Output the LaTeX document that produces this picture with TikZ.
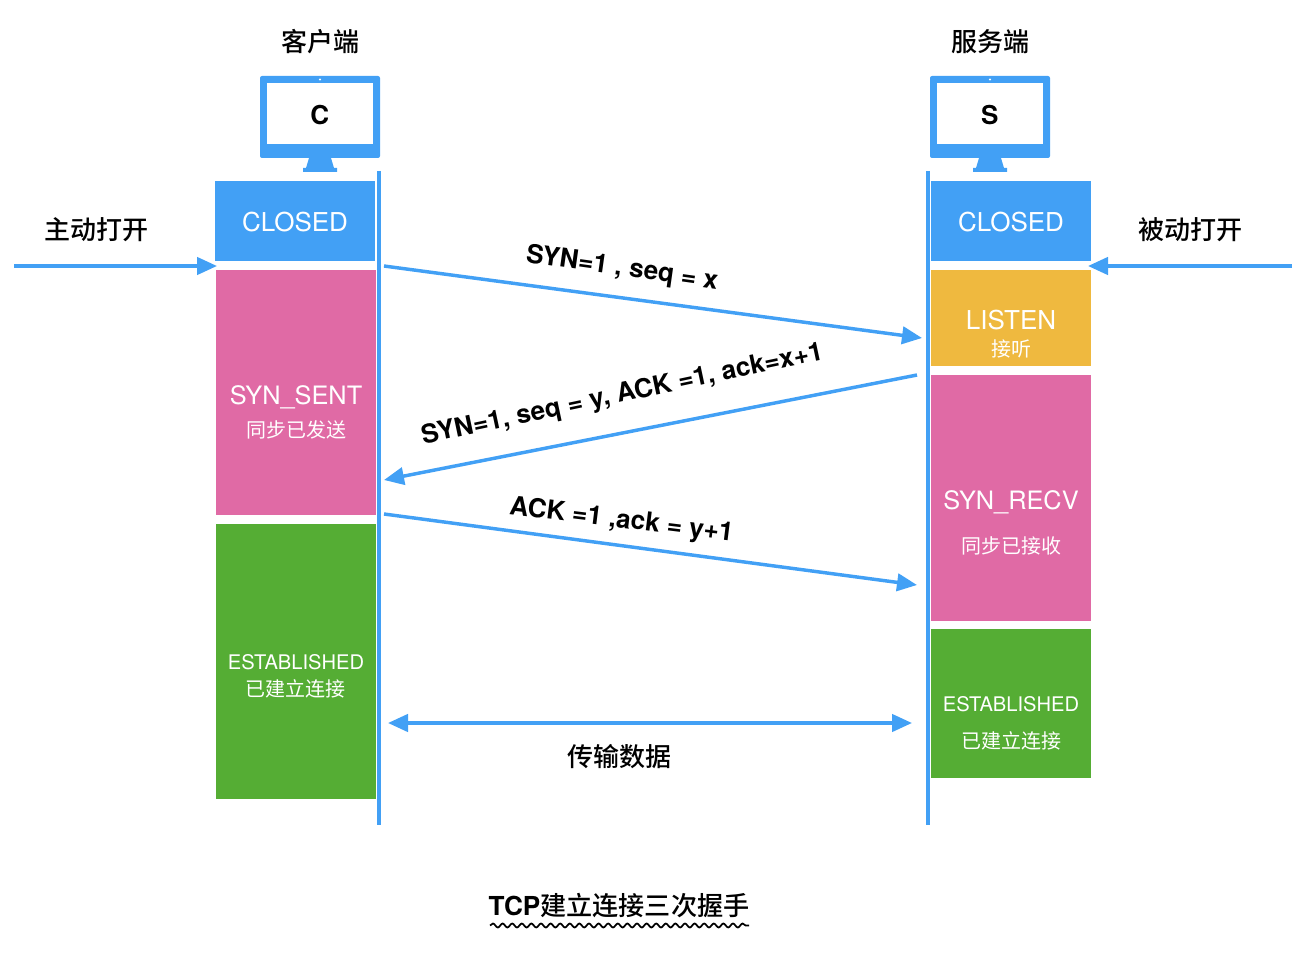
\documentclass[tikz,border=0pt]{standalone}
\usepackage{fontspec}
\setmainfont{TeX Gyre Heros}
\newfontfamily\cjk{Noto Sans CJK SC}
\newfontfamily\cjkb{Noto Sans CJK SC Medium}
\usetikzlibrary{arrows.meta,decorations.pathmorphing}
\definecolor{bl}{HTML}{42A0F5}
\definecolor{pk}{HTML}{E06AA5}
\definecolor{gn}{HTML}{55AD34}
\definecolor{yl}{HTML}{EFB93F}
\tikzset{
  x=0.75pt,y=-0.75pt,
  statebox/.style={draw=none,inner sep=0pt,text=white,align=center,font=\fontsize{19.5}{22}\selectfont},
  narrowtxt/.style={statebox,font=\fontsize{19}{22}\selectfont},
  esttxt/.style={statebox,font=\fontsize{15.1}{18}\selectfont},
  lbl/.style={inner sep=0pt,text=black,font=\fontsize{19.6}{22}\selectfont\bfseries},
  cjklbl/.style={inner sep=0pt,text=black,font=\fontsize{19.5}{22}\selectfont\cjkb},
  flow/.style={draw=bl,line width=2.6pt,-{Triangle[length=15pt,width=13pt]},shorten >=0pt},
  both/.style={draw=bl,line width=2.6pt,{Triangle[length=15pt,width=13pt]}-{Triangle[length=15pt,width=13pt]}},
  life/.style={draw=bl,line width=3pt},
}
\newcommand{\smallcn}[1]{{\fontsize{15}{18}\selectfont\cjk #1}}
\begin{document}
\begin{tikzpicture}
\useasboundingbox (0,0) rectangle (1306,966);
% monitors
\foreach \n/\cx/\t in {a/320/C,b/990/S}{
  \begin{scope}[shift={(\cx,0)}]
    \fill[bl,rounded corners=1.5pt] (-60,76) rectangle (60,158);
    \fill[bl] (-11,158) -- (11,158) -- (14,168) -- (17,168) -- (17,172) -- (-17,172) -- (-17,168) -- (-14,168) -- cycle;
    \fill[white] (-53,83.5) rectangle (53,144);
    \fill[white] (0,79.5) circle (0.9pt);
    \node[inner sep=0pt,font=\fontsize{19.5}{22}\selectfont\bfseries] (mon\n) at (-0.3,115) {\t};
  \end{scope}
}
\node[cjklbl] (tc) at (320,41.5) {客户端};
\node[cjklbl] (ts) at (990,41.5) {服务端};
% lifelines
\coordinate (l1t) at (379,171); \coordinate (l1b) at (379,825);
\coordinate (l2t) at (928,171); \coordinate (l2b) at (928,825);
\draw[life] (l1t) -- (l1b);
\draw[life] (l2t) -- (l2b);
% states left
\node[statebox,fill=bl,minimum width=120pt,minimum height=60pt] (cclosed) at (295,221) {};
\node[statebox] (cclosedt) at (295,222) {CLOSED};
\node[statebox,fill=pk,minimum width=120pt,minimum height=183.75pt] (csent) at (296,392.5) {};
\node[narrowtxt] (csenta) at (296,397) {SYN\_SENT};
\node[statebox] (csentb) at (296,429.5) {\smallcn{同步已发送}};
\node[statebox,fill=gn,minimum width=120pt,minimum height=206.25pt] (cest) at (296,661.5) {};
\node[esttxt] (cesta) at (296,662) {ESTABLISHED};
\node[statebox] (cestb) at (295.5,689) {\smallcn{已建立连接}};
% states right
\node[statebox,fill=bl,minimum width=120pt,minimum height=60pt] (sclosed) at (1011,221) {};
\node[statebox] (sclosedt) at (1011,222) {CLOSED};
\node[statebox,fill=yl,minimum width=120pt,minimum height=72pt] (slisten) at (1011,318) {};
\node[statebox] (slistena) at (1011,320) {LISTEN};
\node[statebox] (slistenb) at (1011,348.5) {\smallcn{接听}};
\node[statebox,fill=pk,minimum width=120pt,minimum height=184.5pt] (srecv) at (1011,498) {};
\node[narrowtxt] (srecva) at (1011,502) {SYN\_RECV};
\node[statebox] (srecvb) at (1011,546) {\smallcn{同步已接收}};
\node[statebox,fill=gn,minimum width=120pt,minimum height=111.75pt] (sest) at (1011,703.5) {};
\node[esttxt] (sesta) at (1011,704) {ESTABLISHED};
\node[statebox] (sestb) at (1011,741) {\smallcn{已建立连接}};
% side arrows
\coordinate (la) at (14,266); \coordinate (laE) at (217,266);
\coordinate (ra) at (1292,266); \coordinate (raE) at (1088,266);
\draw[flow] (la) -- (laE);
\draw[flow] (ra) -- (raE);
\node[cjklbl] (lopen) at (96,229.5) {主动打开};
\node[cjklbl] (ropen) at (1190,229.5) {被动打开};
% messages
\coordinate (m1s) at (384,266); \coordinate (m1e) at (922,338);
\coordinate (m2s) at (917,375); \coordinate (m2e) at (384,480);
\coordinate (m3s) at (384,514); \coordinate (m3e) at (917,585);
\coordinate (m4s) at (388,723); \coordinate (m4e) at (912,723);
\draw[flow] (m1s) -- (m1e);
\draw[flow] (m2s) -- (m2e);
\draw[flow] (m3s) -- (m3e);
\draw[both] (m4s) -- (m4e);
\node[lbl,rotate=-8] (t1) at (622,269) {SYN=1 , seq = x};
\node[lbl,rotate=12] (t2) at (622.5,395) {SYN=1, seq = y, ACK =1, ack=x+1};
\node[lbl,rotate=-7] (t3) at (621.5,521) {ACK =1 ,ack = y+1};
\node[cjklbl] (t4) at (619,756.5) {传输数据};
% title
\node[lbl] (title) at (619,905.5) {TCP{\mdseries\cjkb 建立连接三次握手}};
\coordinate (wa) at (490,925.5); \coordinate (wb) at (749,925.5);
\draw[black,line width=1.3pt,decorate,decoration={snake,amplitude=1.5pt,segment length=7.2pt}] (wa) -- (wb);
\end{tikzpicture}
\end{document}
